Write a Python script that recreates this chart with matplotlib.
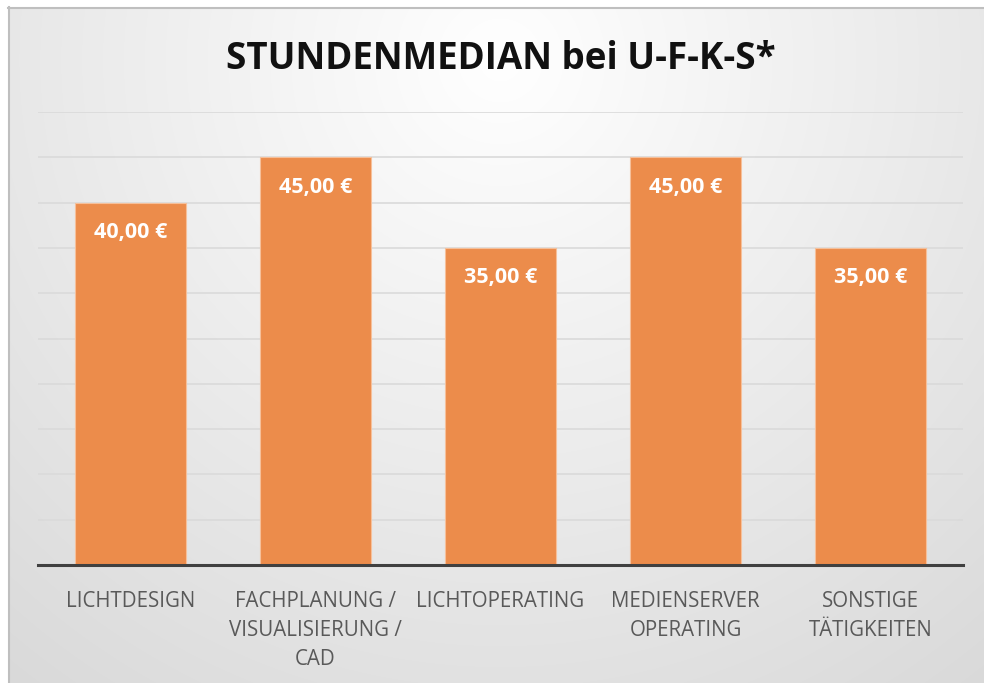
import numpy as np
import matplotlib.pyplot as plt
from matplotlib.lines import Line2D

categories = ["LICHTDESIGN", "FACHPLANUNG /\nVISUALISIERUNG /\nCAD", "LICHTOPERATING",
              "MEDIENSERVER\nOPERATING", "SONSTIGE\nTÄTIGKEITEN"]
values = [40, 45, 35, 45, 35]
value_labels = ["40,00 €", "45,00 €", "35,00 €", "45,00 €", "35,00 €"]
title = "STUNDENMEDIAN bei U-F-K-S*"

W, H = 984, 683
fig = plt.figure(figsize=(W / 100, H / 100), dpi=100)

# background: soft radial gradient inside a frame
bg = fig.add_axes([0, 0, 1, 1], zorder=-10)
yy, xx = np.mgrid[0:H, 0:W]
r = np.sqrt((xx - 500) ** 2 + (yy - 60) ** 2)
t = np.clip(r / 800, 0, 1)
shade = 1.0 - 0.15 * t
img = np.dstack([shade, shade, shade])
img[:7, :, :] = 1.0
img[:, :8, :] = 1.0
bg.imshow(img, extent=[0, W, H, 0], aspect="auto")
bg.set_xlim(0, W)
bg.set_ylim(H, 0)
bg.axis("off")
bg.add_line(Line2D([8, W], [7.5, 7.5], color="#bfbfbf", lw=1.5))
bg.add_line(Line2D([8.5, 8.5], [7, H], color="#bfbfbf", lw=1.5))

ax = fig.add_axes([38 / W, (H - 565) / H, (963 - 38) / W, (565 - 112) / H])
ax.patch.set_alpha(0)
x = np.arange(len(categories))
bars = ax.bar(x, values, width=0.6, color="#ec8c4b", edgecolor="#f6c09a", linewidth=0.8, zorder=3)

for b, lab in zip(bars, value_labels):
    ax.text(b.get_x() + b.get_width() / 2, b.get_height() - 3.3, lab, ha="center", va="center",
            color="white", fontsize=15.5, fontweight="bold", family="Open Sans", zorder=4)

ax.set_xlim(-0.5, len(categories) - 0.5)
ax.set_ylim(0, 50)
ax.set_yticks(np.arange(5, 55, 5))
ax.yaxis.grid(True, color="#dadada", linewidth=1.2, zorder=0)
ax.tick_params(axis="y", left=False, labelleft=False)
ax.tick_params(axis="x", bottom=False, pad=15)
ax.set_xticks(x)
ax.set_xticklabels(categories, fontsize=14.8, color="#595959", family="Open Sans", linespacing=1.5)
for s in ["top", "right", "left"]:
    ax.spines[s].set_visible(False)
ax.spines["bottom"].set_color("#404040")
ax.spines["bottom"].set_linewidth(2.2)
ax.spines["bottom"].set_zorder(5)

fig.text(501 / W, 1 - 59 / H, title, ha="center", va="center", fontsize=26.5, fontweight="bold",
         family="Open Sans", color="#111111")

fig.savefig("out.png", dpi=100)
